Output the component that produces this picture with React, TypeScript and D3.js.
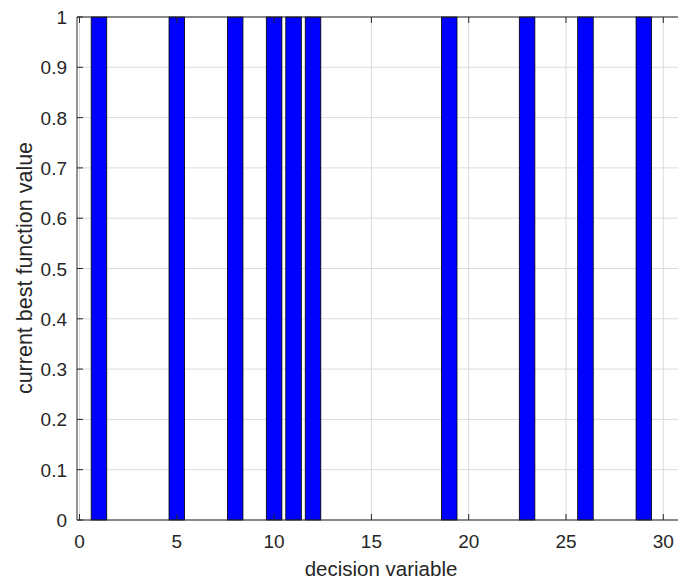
import React from "react";
import * as d3 from "d3";

const xs: number[] = Array.from({ length: 30 }, (_, i) => i + 1);
const values: number[] = [1,0,0,0,1,0,0,1,0,1,1,1,0,0,0,0,0,0,1,0,0,0,1,0,0,1,0,0,1,0];
const xTicks: number[] = [0, 5, 10, 15, 20, 25, 30];
const yTicks: number[] = [0, 0.1, 0.2, 0.3, 0.4, 0.5, 0.6, 0.7, 0.8, 0.9, 1];

export default function App() {
  const W = 678, H = 580;
  const left = 77, top = 17, bottom = 520;
  const x = d3.scaleLinear().domain([0, 30]).range([79.5, 663.3]);
  const right = x(31);
  const y = d3.scaleLinear().domain([0, 1]).range([bottom, top]);
  const bw = x(0.8) - x(0);
  const font = "Arial, 'Liberation Sans', Helvetica, sans-serif";
  return (
    <svg width={W} height={H} style={{ position: "absolute", left: 0, top: 0, background: "#fff" }}>
      <rect x={0} y={0} width={W} height={H} fill="#fff" />
      {xTicks.map((t) => (
        <line key={"gx" + t} x1={x(t)} x2={x(t)} y1={top} y2={bottom} stroke="#dcdcdc" strokeWidth={1} />
      ))}
      {yTicks.map((t) => (
        <line key={"gy" + t} x1={left} x2={right} y1={y(t)} y2={y(t)} stroke="#dcdcdc" strokeWidth={1} />
      ))}
      {xs.map((v, i) => (
        <rect key={"b" + v} x={x(v) - bw / 2} y={y(values[i])} width={bw} height={y(0) - y(values[i])}
          fill="#0000ff" stroke="#000" strokeWidth={0.8} />
      ))}
      <line x1={left} x2={right} y1={bottom} y2={bottom} stroke="#262626" strokeWidth={1} />
      <line x1={left} x2={right} y1={top} y2={top} stroke="#262626" strokeWidth={1} />
      <line x1={left} x2={left} y1={top} y2={bottom} stroke="#262626" strokeWidth={1} />
      {xTicks.map((t) => (
        <g key={"tx" + t}>
          <line x1={x(t)} x2={x(t)} y1={bottom} y2={bottom - 6} stroke="#262626" />
          <line x1={x(t)} x2={x(t)} y1={top} y2={top + 6} stroke="#262626" />
          <text x={x(t)} y={548} textAnchor="middle" fontFamily={font} fontSize={19} fill="#262626">{t}</text>
        </g>
      ))}
      {yTicks.map((t) => (
        <g key={"ty" + t}>
          <line x1={left} x2={left + 6} y1={y(t)} y2={y(t)} stroke="#262626" />
          <text x={67} y={y(t) + 7} textAnchor="end" fontFamily={font} fontSize={19} fill="#262626">{t}</text>
        </g>
      ))}
      <text x={381} y={576} textAnchor="middle" fontFamily={font} fontSize={20.5} fill="#262626">decision variable</text>
      <text transform={`translate(32,268) rotate(-90)`} textAnchor="middle" fontFamily={font} fontSize={21.5} fill="#262626">current best function value</text>
    </svg>
  );
}
